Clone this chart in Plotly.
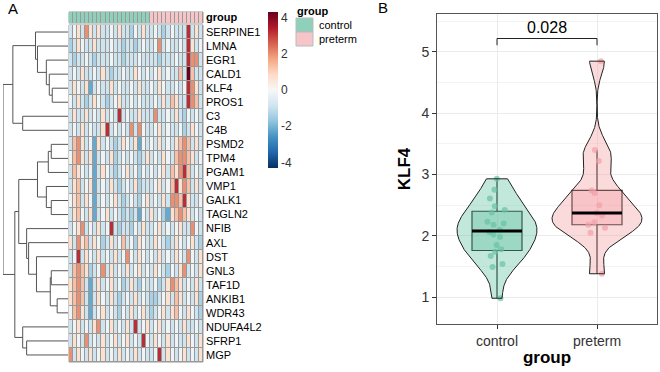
import numpy as np
import plotly.graph_objects as go

# ---------------- DATA ----------------
genes = ["SERPINE1", "LMNA", "EGR1", "CALD1", "KLF4", "PROS1", "C3", "C4B",
         "PSMD2", "TPM4", "PGAM1", "VMP1", "GALK1", "TAGLN2", "NFIB", "AXL",
         "DST", "GNL3", "TAF1D", "ANKIB1", "WDR43", "NDUFA4L2", "SFRP1", "MGP"]
sample_groups = ["control"] * 20 + ["preterm"] * 13

# heatmap cell levels, one code per sample
level_values = {"N": -3.0, "B": -2.2, "b": -1.4, "-": -0.9, "0": -0.2,
                "+": 0.7, "r": 1.3, "R": 2.0, "X": 3.2, "Z": 4.3}
heat_rows = [
    "-0+-R+-+--0-+--b0-+-" + "-0-b-0---X-+-",
    "b-+0--+---0--b--b-0-" + "-0R-0--0-X+-0",
    "-b--0-b---0--b---0--" + "--b---0--XRR-",
    "-0-+--0-+-b--0--+0-0" + "-0+-0--r-Zr--",
    "-+0-+B-0--+-0--0-+--" + "0-+0--0-0XR+-",
    "0-+-b-+0-b-0+--0-0--" + "-0-+-r+--XRr-",
    "-+--+-0-+-0-X-0--+--" + "-R--0-+-b0-0-",
    "-0-+-0--+X-0-0-R-R0-" + "-0+-0--0b-+0-",
    "-rR+-0B+-0-b-+0-+B0-" + "0-+-0-+rRr-+-",
    "0rR+-+B-0-+b-0-0-b-+" + "-0-+0-rRRr+-0",
    "-r+0-0B-+0-b-0+-0b0-" + "0-0+-r+RXr-0-",
    "-+r-0+B-0-+-b-0-+b--" + "-0+-0rX+Rr-+-",
    "0+r-+0B-0-0+-b-0-b0+" + "-0-+-RRrX+--0",
    "-+r0-+B-0+-0-b-b-B0-" + "+-0bB+rRr+-0-",
    "-0+R-0-+-0X-b--b0-+-" + "-0+-0-0+--R0-",
    "+-R+r-+0b-+-0r-0b+0-" + "-+0-b-+0-0+-b",
    "-0X-+0-+-0-+-0R0-+0-" + "0-+-0-+0-R0-+",
    "-rRr+b-0R-+-0-+-0+-0" + "-+0-b0-+R-0-+",
    "+rRr-B-+-0+-0b-+-b0-" + "-0b-+Rr+-0-+-",
    "+rRr-B-+0-+-b-0-+-0-" + "bb-0+-r+-0-+b",
    "0rR+-B-0+-0-b0-+-0+-" + "b-0+-+r0-+0-b",
    "-0+-0-+R-0+-0-+-X-0+" + "-0+-0-0-+--0-",
    "-+0-R-0-+-0+-0+-0-X0" + "-+0-+-0--+0-+",
    "R-+0-+-0+-0-+-0-+-0-" + "-0X-+0-0+-0-+",
]

# row dendrogram: (merge height, left, right)
row_tree = (66,
            (56,
             (33, "SERPINE1", (31, "LMNA", (22, "EGR1", (19, "CALD1", (16, "KLF4", "PROS1"))))),
             (46, "C3", "C4B")),
            (54,
             (50,
              (31, (20, (17, "PSMD2", "TPM4"), "PGAM1"), (22, "VMP1", (17, "GALK1", "TAGLN2"))),
              (42, "NFIB", (40, "AXL", (32, "DST", (18, (17, "GNL3", "TAF1D"), (11, "ANKIB1", "WDR43")))))),
             (46, "NDUFA4L2", (42, "SFRP1", "MGP"))))

# panel B: KLF4 expression
violin_groups = ["control", "preterm"]
klf4_control = [0.98, 1.49, 1.54, 1.67, 1.74, 1.78, 1.85, 1.98, 2.02, 2.06,
                2.10, 2.18, 2.20, 2.23, 2.38, 2.42, 2.48, 2.61, 2.75, 2.93]
klf4_preterm = [1.38, 2.05, 2.13, 2.18, 2.22, 2.33, 2.37, 2.50, 2.70, 2.74,
                3.22, 3.40, 4.85]
p_value_label = "0.028"
bracket_y = 5.22
bracket_tip = 5.11

# ---------------- STYLE ----------------
W, H = 660, 372
FONT = "Liberation Sans, Arial, sans-serif"
rdbu = ["#053061", "#2166ac", "#4393c3", "#92c5de", "#d1e5f0", "#f7f7f7",
        "#fddbc7", "#f4a582", "#d6604d", "#b2182b", "#67001f"]
rdbu_scale = [[i / (len(rdbu) - 1), c] for i, c in enumerate(rdbu)]
anno_colors = {"control": "#8ED0B9", "preterm": "#F5C5C8"}
violin_fill = {"control": "rgba(102,194,165,0.40)", "preterm": "rgba(244,163,168,0.40)"}
point_col = {"control": "rgba(102,194,165,0.70)", "preterm": "rgba(240,160,165,0.70)"}
violin_width = {"control": 0.80, "preterm": 0.90}
BOX_W = 0.5


def px_x(x):
    return x / W


def px_y(y):
    return 1 - y / H


fig = go.Figure()

# ---------- dendrogram ----------
def layout_tree(node):
    if isinstance(node, str):
        return genes.index(node), 0.0, []
    h, left, right = node
    yl, hl, sl = layout_tree(left)
    yr, hr, sr = layout_tree(right)
    segs = sl + sr + [([hl, h, h, hr], [yl, yl, yr, yr])]
    return (yl + yr) / 2, h, segs


_, root_h, segments = layout_tree(row_tree)
dx, dy = [], []
for xs, ys in segments:
    dx += xs + [None]
    dy += ys + [None]
fig.add_trace(go.Scatter(x=dx, y=dy, mode="lines", line=dict(color="#555555", width=1),
                         xaxis="x", yaxis="y", hoverinfo="skip", showlegend=False))

# ---------- heatmap ----------
z = np.array([[level_values[c] for c in row] for row in heat_rows])
n_samp = z.shape[1]
fig.add_trace(go.Heatmap(
    z=z, x=list(range(n_samp)), y=list(range(len(genes))), xaxis="x2", yaxis="y2",
    colorscale=rdbu_scale, zmin=-4.3, zmax=4.3, xgap=1, ygap=1, hoverinfo="skip",
    colorbar=dict(x=px_x(268), xanchor="left", y=px_y(12), yanchor="top",
                  len=156, lenmode="pixels", thickness=10, thicknessmode="pixels",
                  xpad=0, ypad=0, outlinewidth=0, ticks="",
                  tickvals=[-4, -2, 0, 2, 4], ticktext=["-4", "-2", "0", "2", "4"],
                  tickfont=dict(size=12, color="#333333", family=FONT))))

# annotation bar
grp_codes = [[0 if g == "control" else 1 for g in sample_groups]]
fig.add_trace(go.Heatmap(
    z=grp_codes, x=list(range(n_samp)), y=[0], xaxis="x3", yaxis="y3",
    colorscale=[[0, anno_colors["control"]], [0.5, anno_colors["control"]],
                [0.5, anno_colors["preterm"]], [1, anno_colors["preterm"]]],
    zmin=0, zmax=1, xgap=1, showscale=False, hoverinfo="skip"))

# ---------- panel B ----------
def bw_nrd0(v):
    v = np.asarray(v, dtype=float)
    sd = v.std(ddof=1)
    q75, q25 = np.percentile(v, [75, 25])
    return 0.9 * min(sd, (q75 - q25) / 1.34) * len(v) ** -0.2


def kde_trimmed(v, n=512):
    v = np.asarray(v, dtype=float)
    bw = bw_nrd0(v)
    grid = np.linspace(v.min(), v.max(), n)
    dens = np.exp(-0.5 * ((grid[:, None] - v[None, :]) / bw) ** 2).sum(axis=1)
    dens /= len(v) * bw * np.sqrt(2 * np.pi)
    return grid, dens


vdata = {"control": klf4_control, "preterm": klf4_preterm}
for i, g in enumerate(violin_groups):
    pos = i + 1
    grid, dens = kde_trimmed(vdata[g])
    half = dens / dens.max() * violin_width[g] / 2
    xs = np.concatenate([pos - half, (pos + half)[::-1], [pos - half[0]]])
    ys = np.concatenate([grid, grid[::-1], [grid[0]]])
    fig.add_trace(go.Scatter(x=xs, y=ys, mode="lines", fill="toself",
                             fillcolor=violin_fill[g], line=dict(color="#222222", width=1),
                             xaxis="x4", yaxis="y4", hoverinfo="skip", showlegend=False))
for i, g in enumerate(violin_groups):
    vals = vdata[g]
    pos = i + 1
    fig.add_trace(go.Box(
        x=[pos] * len(vals), y=vals, xaxis="x4", yaxis="y4", width=BOX_W, name=g,
        boxpoints="all", jitter=0.45, pointpos=0, whiskerwidth=0,
        quartilemethod="inclusive", fillcolor=violin_fill[g],
        line=dict(color="#111111", width=1.2),
        marker=dict(color=point_col[g], size=6, line=dict(width=0)),
        hoverinfo="skip", showlegend=False))
    med = float(np.median(vals))
    fig.add_trace(go.Scatter(x=[pos - BOX_W / 2, pos + BOX_W / 2], y=[med, med], mode="lines",
                             line=dict(color="black", width=3), xaxis="x4", yaxis="y4",
                             hoverinfo="skip", showlegend=False))

# significance bracket
fig.add_trace(go.Scatter(x=[1, 1, 2, 2], y=[bracket_tip, bracket_y, bracket_y, bracket_tip],
                         mode="lines", line=dict(color="#222222", width=1),
                         xaxis="x4", yaxis="y4", hoverinfo="skip", showlegend=False))

# ---------- layout ----------
hidden = dict(visible=False, showgrid=False, zeroline=False, fixedrange=True)
heat_ydom = [px_y(362), px_y(25)]
fig.update_layout(
    width=W, height=H, margin=dict(l=0, r=0, t=0, b=0),
    paper_bgcolor="white", plot_bgcolor="white",
    font=dict(family=FONT, color="#000000"),
    showlegend=False, boxmode="overlay",
    xaxis=dict(domain=[px_x(3), px_x(68)], range=[root_h, 0], **hidden),
    yaxis=dict(domain=heat_ydom, range=[len(genes) - 0.5, -0.5], **hidden),
    xaxis2=dict(domain=[px_x(69), px_x(203)], range=[-0.5, n_samp - 0.5], anchor="y2", **hidden),
    yaxis2=dict(domain=heat_ydom, range=[len(genes) - 0.5, -0.5], anchor="x2", side="right",
                tickvals=list(range(len(genes))), ticktext=genes, ticks="",
                ticklabelstandoff=2,
                showgrid=False, zeroline=False, showline=False,
                tickfont=dict(size=11, color="#000000", family=FONT)),
    xaxis3=dict(domain=[px_x(69), px_x(203)], range=[-0.5, n_samp - 0.5], anchor="y3", **hidden),
    yaxis3=dict(domain=[px_y(23), px_y(12)], range=[-0.5, 0.5], anchor="x3", side="right",
                tickvals=[0], ticktext=["<b>group</b>"], ticks="", ticklabelstandoff=2,
                showgrid=False, zeroline=False, showline=False,
                tickfont=dict(size=11, color="#000000", family=FONT)),
    xaxis4=dict(domain=[px_x(437), px_x(657)], range=[0.4, 2.6], anchor="y4",
                tickvals=[1, 2], ticktext=violin_groups, ticks="outside", ticklen=4,
                tickcolor="#333333", showline=True, linecolor="#555555", linewidth=1,
                mirror=True, showgrid=True, gridcolor="#EBEBEB", zeroline=False,
                tickfont=dict(size=14, color="#333333", family=FONT),
                title=dict(text="<b>group</b>", font=dict(size=17, color="#000000"), standoff=3)),
    yaxis4=dict(domain=[px_y(324), px_y(14)], range=[0.56, 5.62], anchor="x4",
                tickvals=[1, 2, 3, 4, 5], ticks="outside", ticklen=4, tickcolor="#333333",
                showline=True, linecolor="#555555", linewidth=1, mirror=True,
                showgrid=True, gridcolor="#EBEBEB", zeroline=False,
                minor=dict(tickvals=[1.5, 2.5, 3.5, 4.5, 5.5], showgrid=True,
                           gridcolor="#F3F3F3", ticks=""),
                tickfont=dict(size=14, color="#333333", family=FONT),
                title=dict(text="<b>KLF4</b>", font=dict(size=17, color="#000000"), standoff=6)),
)

shapes = []
for xr, yr in [("x2", "y2"), ("x3", "y3")]:
    shapes.append(dict(type="rect", xref=f"{xr} domain", yref=f"{yr} domain",
                       x0=0, x1=1, y0=0, y1=1, fillcolor="#999999",
                       line=dict(color="#999999", width=1), layer="below"))
# group legend swatches
for i, g in enumerate(violin_groups):
    top = 18 + 14 * i
    shapes.append(dict(type="rect", xref="paper", yref="paper",
                       x0=px_x(296), x1=px_x(313), y0=px_y(top + 14), y1=px_y(top),
                       fillcolor=anno_colors[g], line=dict(color="#BBBBBB", width=1)))
fig.update_layout(shapes=shapes)

annotations = [
    dict(text="A", x=px_x(6), y=px_y(9), xref="paper", yref="paper", xanchor="left",
         yanchor="middle", showarrow=False, font=dict(size=15, color="#000000")),
    dict(text="B", x=px_x(376), y=px_y(8), xref="paper", yref="paper", xanchor="left",
         yanchor="middle", showarrow=False, font=dict(size=15, color="#000000")),
    dict(text="<b>group</b>", x=px_x(295), y=px_y(11), xref="paper", yref="paper",
         xanchor="left", yanchor="middle", showarrow=False, font=dict(size=11)),
    dict(text=p_value_label, x=1.5, y=bracket_y, xref="x4", yref="y4", yanchor="bottom",
         yshift=1, showarrow=False, font=dict(size=16, color="#000000")),
]
for i, g in enumerate(violin_groups):
    annotations.append(dict(text=g, x=px_x(317), y=px_y(25 + 14 * i), xref="paper", yref="paper",
                            xanchor="left", yanchor="middle", showarrow=False,
                            font=dict(size=11, color="#000000")))
fig.update_layout(annotations=annotations)

fig.write_html("out.html")
